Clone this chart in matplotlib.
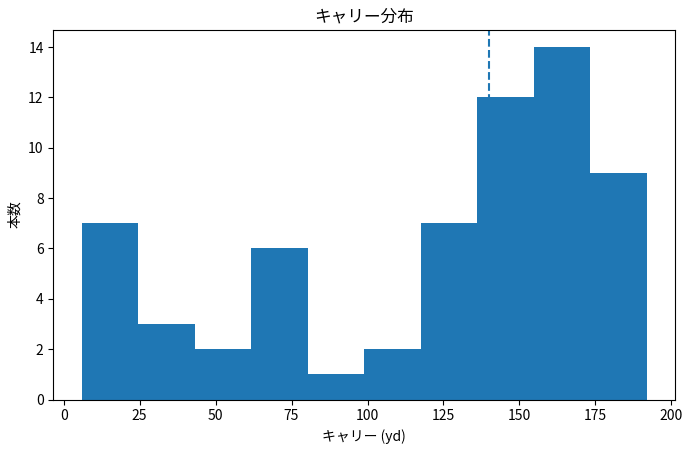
import numpy as np
import matplotlib.pyplot as plt

plt.rcParams['font.family'] = ['Noto Sans CJK JP', 'DejaVu Sans']

# histogram bins
bin_edges = [5.9, 24.5, 43.1, 61.7, 80.3, 98.9, 117.5, 136.1, 154.7, 173.3, 191.9]
counts = [7, 3, 2, 6, 1, 2, 7, 12, 14, 9]
target_carry = 140

fig, ax = plt.subplots(figsize=(6.93, 4.54), dpi=100)
ax.hist(bin_edges[:-1], bins=bin_edges, weights=counts, color='C0')
ax.axvline(target_carry, linestyle='--', color='C0', zorder=0.5)
ax.set_title('キャリー分布')
ax.set_xlabel('キャリー (yd)')
ax.set_ylabel('本数')
fig.subplots_adjust(left=0.077, right=0.974, bottom=0.12, top=0.935)
fig.savefig('out.png')
